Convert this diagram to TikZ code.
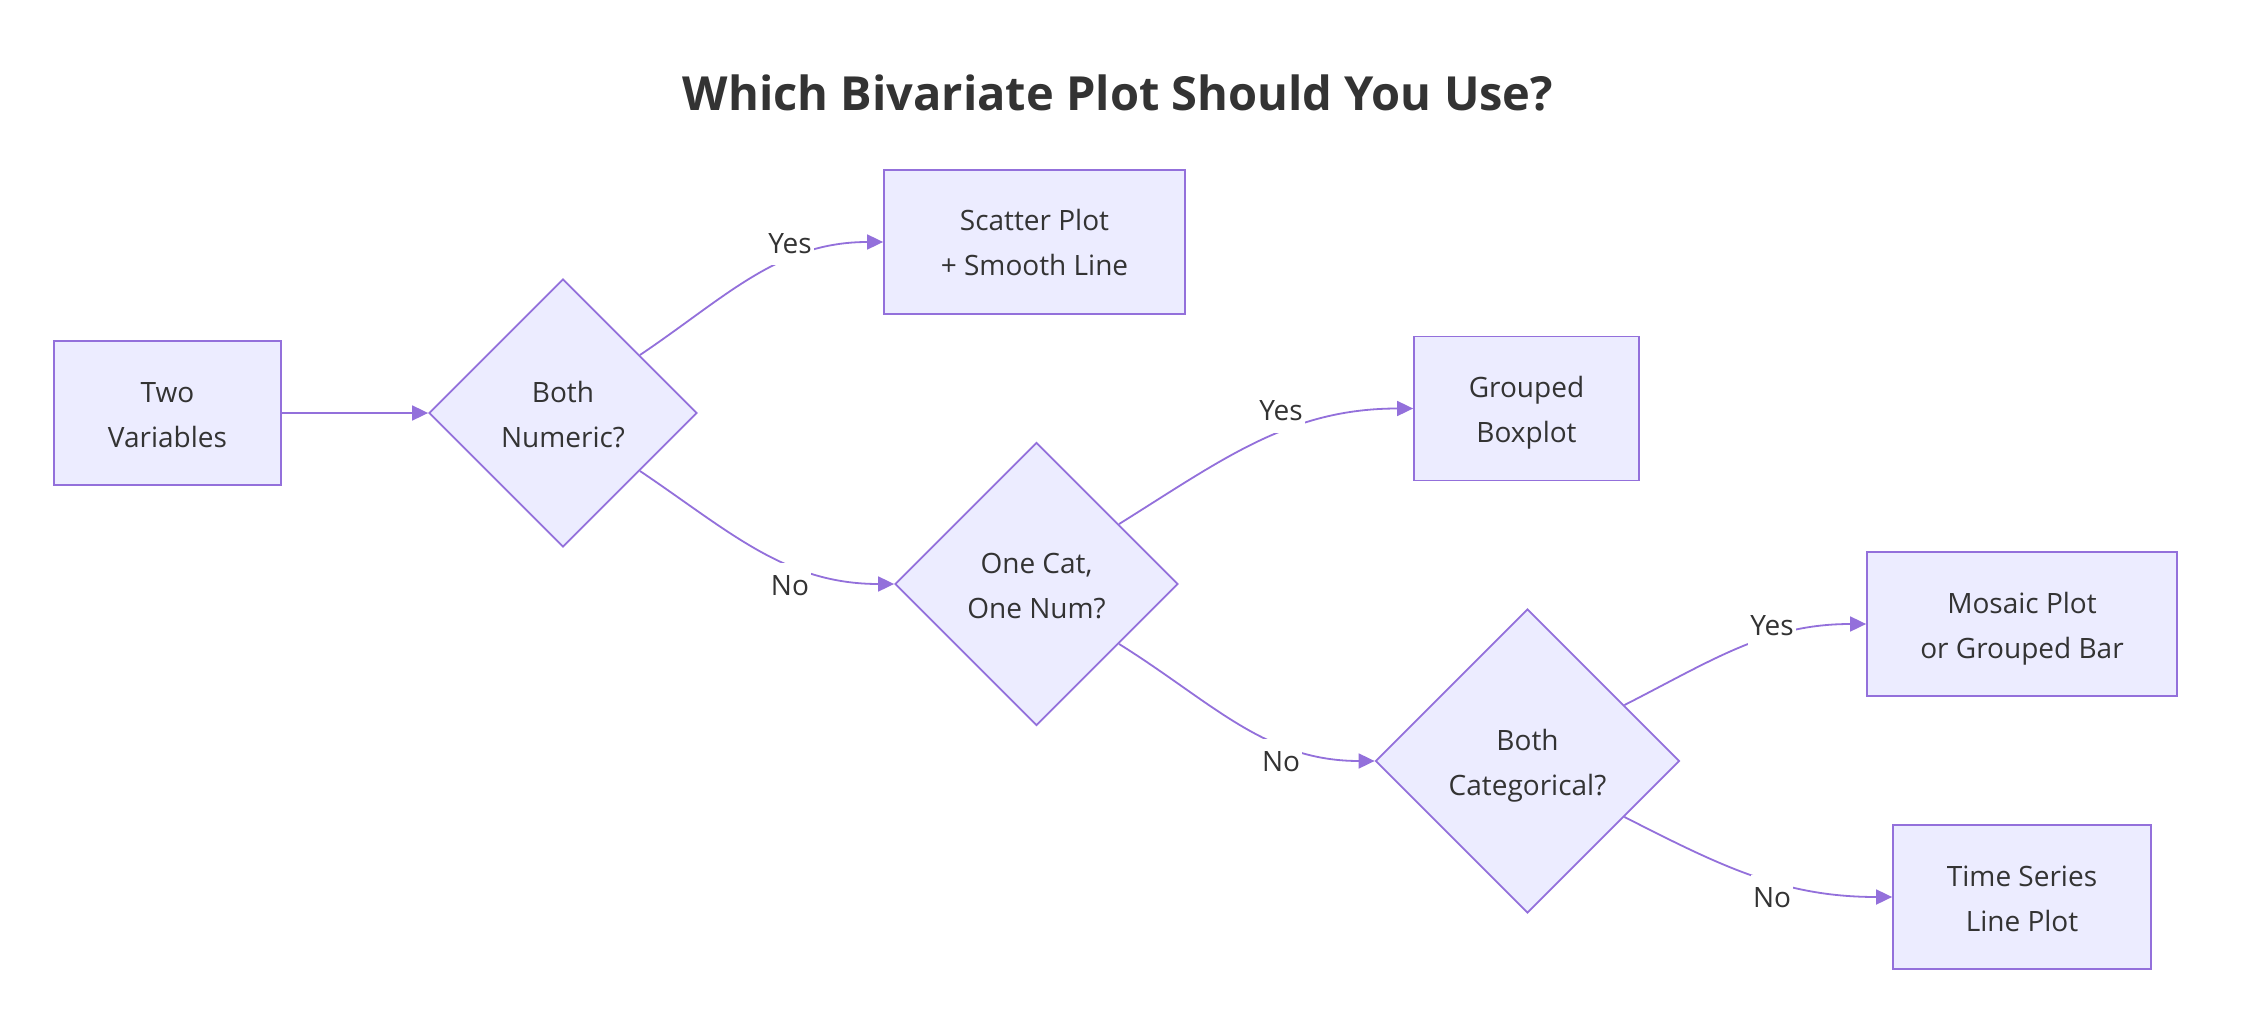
\documentclass[tikz,border=0pt]{standalone}
\usepackage{fontspec}
\setmainfont{Open Sans}
\usetikzlibrary{shapes.geometric,arrows.meta}
\definecolor{nodefill}{HTML}{ECECFF}
\definecolor{nodestroke}{HTML}{9370DB}
\definecolor{txt}{HTML}{333333}
\begin{document}
\begin{tikzpicture}[x=1pt,y=-1pt,
  nodefont/.style={font=\fontsize{28}{45}\selectfont},
  twoline/.style={text height=68pt, text depth=0pt},
  box/.style={draw=nodestroke, fill=nodefill, line width=1.8pt, minimum width=#1, minimum height=144pt, inner sep=0pt, align=center, text=txt, nodefont, twoline},
  dec/.style={diamond, draw=nodestroke, fill=nodefill, line width=1.8pt, minimum width=#1, minimum height=#1, inner sep=0pt, align=center, text=txt, nodefont, twoline},
  edge/.style={draw=nodestroke, line width=1.8pt, -{Triangle[length=16pt,width=15pt]}},
  elabel/.style={fill=white, text=txt, nodefont, text height=21pt, text depth=0pt, inner xsep=2pt, inner ysep=12pt}
]
\fill[white] (0,0) rectangle (2248,1032);
\useasboundingbox (0,0) rectangle (2248,1032);

\node[text=txt, font=\bfseries\fontsize{47}{56}\selectfont] (title) at (1118,93) {Which Bivariate Plot Should You Use?};

\node[box=227pt] (tv) at (167.5,413) {Two\\Variables};
\node[dec=268pt] (bn) at (563,413) {Both\\Numeric?};
\node[box=301pt] (sc) at (1034.5,242) {Scatter Plot\\+ Smooth Line};
\node[dec=283pt] (oc) at (1036.5,584) {One Cat,\\One Num?};
\node[box=225pt] (gb) at (1526.5,408.5) {Grouped\\Boxplot};
\node[dec=304pt] (bc) at (1527.5,761) {Both\\Categorical?};
\node[box=310pt] (mp) at (2022,624) {Mosaic Plot\\or Grouped Bar};
\node[box=258pt] (ts) at (2022,897) {Time Series\\Line Plot};

\draw[edge] (tv.east) -- (bn.west);
\draw[edge] (bn.37) to[out=34,in=180] (sc.west);
\draw[edge] (bn.-37) to[out=-34,in=180] (oc.west);
\draw[edge] (oc.36) to[out=32,in=180] (gb.west);
\draw[edge] (oc.-36) to[out=-32,in=180] (bc.west);
\draw[edge] (bc.30) to[out=27,in=180] (mp.west);
\draw[edge] (bc.-30) to[out=-27,in=180] (ts.west);

\node[elabel] (l1) at (790,243) {Yes};
\node[elabel] (l2) at (790,585) {No};
\node[elabel] (l3) at (1281,410) {Yes};
\node[elabel] (l4) at (1281,761) {No};
\node[elabel] (l5) at (1772,625) {Yes};
\node[elabel] (l6) at (1772,897) {No};
\end{tikzpicture}
\end{document}
